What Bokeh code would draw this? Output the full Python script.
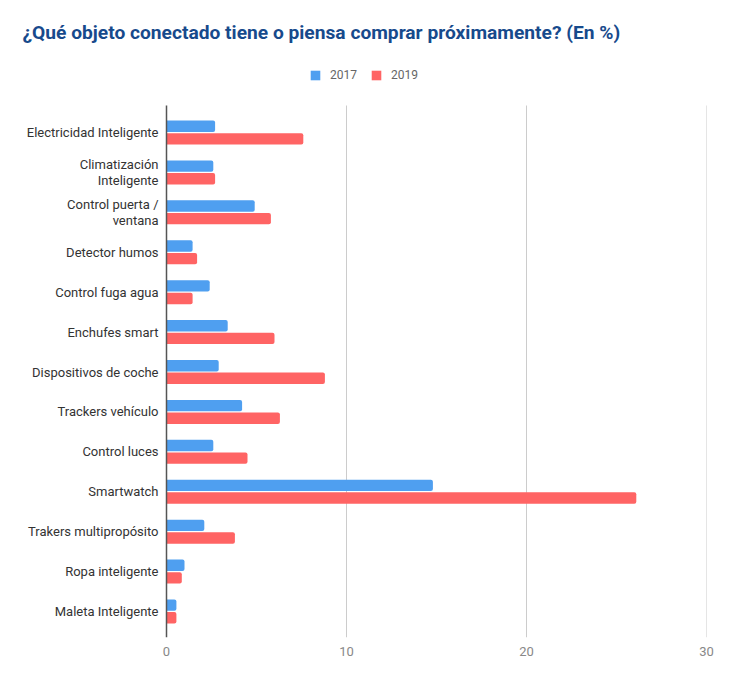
import numpy as np
from bokeh.plotting import figure
from bokeh.models import Label, Legend, LegendItem, Range1d, FixedTicker, ColumnDataSource
from bokeh.core.properties import value
from bokeh.transform import dodge
from bokeh.embed import file_html
from bokeh.resources import INLINE

categories = [
    "Electricidad Inteligente",
    "Climatización\nInteligente",
    "Control puerta /\nventana",
    "Detector humos",
    "Control fuga agua",
    "Enchufes smart",
    "Dispositivos de coche",
    "Trackers vehículo",
    "Control luces",
    "Smartwatch",
    "Trakers multipropósito",
    "Ropa inteligente",
    "Maleta Inteligente",
]
v2017 = [2.7, 2.6, 4.9, 1.45, 2.4, 3.4, 2.9, 4.2, 2.6, 14.8, 2.1, 1.0, 0.55]
v2019 = [7.6, 2.7, 5.8, 1.7, 1.45, 6.0, 8.8, 6.3, 4.5, 26.1, 3.8, 0.85, 0.55]
years = ["2017", "2019"]
colors = ["#4f9ff0", "#ff6464"]
x_ticks = [0, 10, 20, 30]
title_text = "¿Qué objeto conectado tiene o piensa comprar próximamente? (En %)"

n = len(categories)
ypos = np.arange(n)[::-1].astype(float)   # first category on top
src = ColumnDataSource(dict(cat=categories, y=ypos, zero=np.zeros(n),
                            v2017=v2017, v2019=v2019))

# frame covers the full canvas (except bottom axis and right margin)
p = figure(width=738, height=674,
           x_range=Range1d(-166 / 18, 30), y_range=Range1d(-0.652, 15.308),
           output_backend="svg", toolbar_location=None,
           min_border_left=0, min_border_right=32, min_border_top=0, min_border_bottom=37)
p.yaxis.visible = False
p.grid.visible = False
p.outline_line_color = None

grid_top = 12.677
grid_bot = -0.652
p.segment(x0=x_ticks[1:], x1=x_ticks[1:], y0=grid_bot, y1=grid_top,
          line_color="#cccccc", line_width=1)

r1 = p.hbar(y=dodge("y", 0.158), left=0, right="v2017", height=0.285,
            source=src, fill_color=colors[0], line_color=None, border_radius=(0, 2, 2, 0))
r2 = p.hbar(y=dodge("y", -0.158), left=0, right="v2019", height=0.285,
            source=src, fill_color=colors[1], line_color=None, border_radius=(0, 2, 2, 0))

# y axis line
p.segment(x0=[0], x1=[0], y0=grid_bot, y1=grid_top, line_color="#555555", line_width=1.5)

# category labels
p.text(x="zero", y="y", text="cat", source=src, x_offset=-8,
       text_align="right", text_baseline="middle",
       text_font=value("Roboto"), text_font_size="13px", text_color="#333333",
       text_line_height=1.05)

p.xaxis.ticker = FixedTicker(ticks=x_ticks)
p.xaxis.axis_line_color = None
p.xaxis.major_tick_line_color = None
p.xaxis.minor_tick_line_color = None
p.xaxis.major_label_text_color = "#888888"
p.xaxis.major_label_text_font = "Roboto"
p.xaxis.major_label_text_font_size = "13px"
p.xaxis.major_label_standoff = 3

legend = Legend(items=[LegendItem(label=years[0], renderers=[r1]),
                       LegendItem(label=years[1], renderers=[r2])],
                orientation="horizontal", location=(309, 555),
                glyph_width=12, glyph_height=12, label_standoff=9, spacing=13,
                padding=0, margin=0, border_line_color=None, background_fill_alpha=0,
                label_text_font="Roboto", label_text_font_size="12px",
                label_text_color="#666666", label_height=12)
p.add_layout(legend, "center")

p.add_layout(Label(x=22, y=605, x_units="screen", y_units="screen", text=title_text,
                   text_font="Roboto", text_font_style="bold", text_font_size="19.2px",
                   text_color="#174a8c", text_baseline="middle"))

open("out.html", "w").write(file_html(p, INLINE))
